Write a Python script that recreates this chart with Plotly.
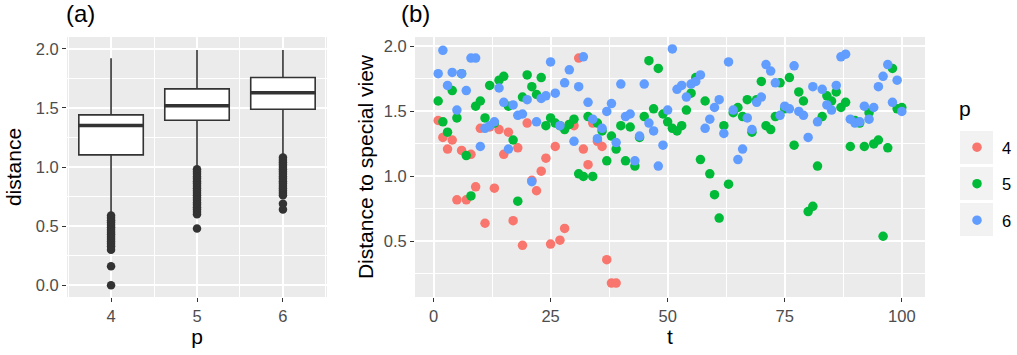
import plotly.graph_objects as go

# ---------------- data ----------------
p_levels = [4, 5, 6]
box_q1 = [1.103, 1.396, 1.489]
box_median = [1.351, 1.518, 1.628]
box_q3 = [1.441, 1.661, 1.757]
box_lower = [0.60, 1.00, 1.09]
box_upper = [1.921, 1.99, 1.99]

outliers_p4 = [0.59, 0.57, 0.55, 0.53, 0.51, 0.49, 0.47, 0.45, 0.43, 0.41,
               0.39, 0.37, 0.35, 0.33, 0.30, 0.16, 0.00]
outliers_p5 = [0.98, 0.96, 0.94, 0.92, 0.90, 0.88, 0.86, 0.84, 0.82, 0.80,
               0.78, 0.76, 0.74, 0.72, 0.70, 0.68, 0.66, 0.64, 0.62, 0.60, 0.48]
outliers_p6 = [1.08, 1.06, 1.04, 1.02, 1.00, 0.98, 0.96, 0.94, 0.92, 0.90,
               0.88, 0.86, 0.84, 0.82, 0.80, 0.78, 0.76, 0.69, 0.64]

t_p4 = list(range(1, 40))
dist_p4 = [1.43, 1.30, 1.21, 1.28, 0.82, 1.20, 0.82, 1.17, 0.92, 1.37,
           0.64, 1.38, 0.91, 1.36, 1.17, 1.34, 0.66, 1.22, 0.47, 1.41,
           0.97, 0.89, 1.04, 1.14, 0.48, 1.23, 0.51, 0.60, 1.40, 1.39,
           1.91, 1.21, 1.09, 1.41, 1.27, 1.23, 0.36, 0.18, 0.18]

t_p5 = list(range(1, 101))
dist_p5 = [1.58, 1.42, 1.34, 1.66, 1.45, 1.79, 1.16, 0.85, 1.54, 1.58,
           1.45, 1.70, 1.41, 1.74, 1.77, 1.54, 1.28, 0.81, 1.61, 1.78,
           1.69, 1.63, 1.76, 1.39, 1.45, 1.41, 1.39, 1.36, 1.40, 1.44,
           1.02, 1.00, 1.46, 1.00, 1.41, 1.35, 1.12, 1.31, 1.21, 1.39,
           1.12, 1.38, 1.08, 1.30, 1.46, 1.89, 1.52, 1.83, 1.48, 1.42,
           1.37, 1.35, 1.39, 1.51, 1.64, 1.76, 1.13, 1.58, 1.02, 0.86,
           0.68, 1.39, 0.94, 1.49, 1.53, 1.46, 1.59, 1.34, 1.59, 1.73,
           1.39, 1.36, 1.46, 1.72, 1.52, 1.76, 1.24, 1.65, 1.58, 0.73,
           0.77, 1.08, 1.46, 1.62, 1.58, 1.65, 1.53, 1.57, 1.23, 1.43,
           1.41, 1.23, 1.49, 1.25, 1.28, 0.54, 1.22, 1.83, 1.52, 1.53]

t_p6 = list(range(1, 101))
dist_p6 = [1.79, 1.97, 1.70, 1.80, 1.51, 1.79, 1.66, 1.91, 1.91, 1.23,
           1.37, 1.39, 1.42, 1.68, 1.57, 1.21, 1.55, 1.47, 1.48, 1.59,
           0.96, 1.42, 1.60, 1.62, 1.88, 1.64, 1.39, 1.72, 1.82, 1.27,
           1.69, 1.92, 1.57, 1.44, 1.29, 1.37, 1.50, 1.56, 1.26, 1.71,
           1.46, 1.48, 1.12, 1.31, 1.71, 1.41, 1.35, 1.08, 1.24, 1.51,
           1.98, 1.67, 1.70, 1.61, 1.71, 1.73, 1.78, 1.37, 1.44, 1.53,
           1.59, 1.33, 1.88, 1.51, 1.13, 1.21, 1.45, 1.36, 1.57, 1.61,
           1.86, 1.81, 1.72, 1.47, 1.54, 1.52, 1.85, 1.50, 1.47, 1.30,
           1.69, 1.42, 1.67, 1.55, 1.51, 1.70, 1.92, 1.94, 1.44, 1.41,
           1.42, 1.54, 1.44, 1.53, 1.69, 1.77, 1.86, 1.57, 1.74, 1.50]

group_names = ["4", "5", "6"]
group_colors = ["#F8766D", "#00BA38", "#619CFF"]

# ---------------- figure ----------------
W, H = 1017, 355
FONT = "Liberation Sans, Arial, sans-serif"
DARK = "#333333"
BOX_W = 0.75

fig = go.Figure()

for i, p in enumerate(p_levels):
    fig.add_trace(go.Box(
        x=[p], q1=[box_q1[i]], median=[box_median[i]], q3=[box_q3[i]],
        lowerfence=[box_lower[i]], upperfence=[box_upper[i]],
        width=BOX_W, whiskerwidth=0, fillcolor="white",
        line=dict(color=DARK, width=1.6), boxpoints=False,
        showlegend=False, hoverinfo="skip", xaxis="x", yaxis="y"))

# thicker median bars
mx, my = [], []
for i, p in enumerate(p_levels):
    mx += [p - BOX_W / 2, p + BOX_W / 2, None]
    my += [box_median[i], box_median[i], None]
fig.add_trace(go.Scatter(x=mx, y=my, mode="lines", line=dict(color=DARK, width=3.6),
                         showlegend=False, hoverinfo="skip", xaxis="x", yaxis="y"))

# outliers
for p, outs in zip(p_levels, [outliers_p4, outliers_p5, outliers_p6]):
    fig.add_trace(go.Scatter(x=[p] * len(outs), y=outs, mode="markers",
                             marker=dict(color=DARK, size=8.5),
                             showlegend=False, hoverinfo="skip", xaxis="x", yaxis="y"))

# scatter panel
for name, col, tt, dd in zip(group_names, group_colors,
                             [t_p4, t_p5, t_p6], [dist_p4, dist_p5, dist_p6]):
    fig.add_trace(go.Scatter(x=tt, y=dd, mode="markers", name=name,
                             legendgroup=name,
                             marker=dict(color=col, size=9.5),
                             xaxis="x2", yaxis="y2"))

ydom = [(H - 297) / H, (H - 37) / H]
grid = dict(showgrid=True, gridcolor="white", gridwidth=1.7, zeroline=False,
            showline=False, ticks="outside", ticklen=4, tickwidth=1.2,
            tickcolor=DARK, tickfont=dict(family=FONT, size=16.5, color="#4D4D4D"))

def minor(d):
    return dict(dtick=d, showgrid=True, gridcolor="white", gridwidth=0.8, ticks="")

fig.update_layout(
    width=W, height=H,
    margin=dict(l=0, r=0, t=0, b=0, autoexpand=False),
    paper_bgcolor="white", plot_bgcolor="#EBEBEB",
    font=dict(family=FONT, color="black"),
    xaxis=dict(domain=[67 / W, 327 / W], range=[3.4875, 6.5125], anchor="y",
               tickvals=p_levels, minor=dict(tick0=4, **minor(0.5)),
               title=dict(text="p", font=dict(size=21), standoff=4), **grid),
    yaxis=dict(domain=ydom, range=[-0.1, 2.1], anchor="x", tick0=0, dtick=0.5,
               tickformat=".1f", minor=dict(tick0=0, **minor(0.25)),
               title=dict(text="distance", font=dict(size=21), standoff=8), **grid),
    xaxis2=dict(domain=[415 / W, 925 / W], range=[-3.95, 104.95], anchor="y2",
                tick0=0, dtick=25, minor=dict(tick0=0, **minor(12.5)),
                title=dict(text="t", font=dict(size=21), standoff=4), **grid),
    yaxis2=dict(domain=ydom, range=[0.073, 2.072], anchor="x2", tick0=0, dtick=0.5,
                tickformat=".1f", minor=dict(tick0=0, **minor(0.25)),
                title=dict(text="Distance to special view", font=dict(size=21), standoff=4),
                **grid),
    legend=dict(x=952 / W, y=1 - 130 / H, xanchor="left", yanchor="top",
                bgcolor="rgba(0,0,0,0)", tracegroupgap=12, itemwidth=40,
                font=dict(size=16.5, color="black")),
    annotations=[
        dict(text="(a)", x=64 / W, y=1 - 14 / H, xref="paper", yref="paper",
             xanchor="left", yanchor="middle", showarrow=False, font=dict(size=24)),
        dict(text="(b)", x=399 / W, y=1 - 14 / H, xref="paper", yref="paper",
             xanchor="left", yanchor="middle", showarrow=False, font=dict(size=24)),
        dict(text="p", x=957 / W, y=1 - 108 / H, xref="paper", yref="paper",
             xanchor="left", yanchor="middle", showarrow=False, font=dict(size=21)),
    ],
)

# grey legend key backgrounds
key_top = [131, 167, 203]
shapes = []
for k in range(len(group_names)):
    shapes.append(dict(type="rect", xref="paper", yref="paper",
                       x0=960 / W, x1=993 / W,
                       y0=1 - (key_top[k] + 33) / H, y1=1 - key_top[k] / H,
                       fillcolor="#F2F2F2", line=dict(width=0), layer="below"))
fig.update_layout(shapes=shapes)

fig.write_html("out.html")
